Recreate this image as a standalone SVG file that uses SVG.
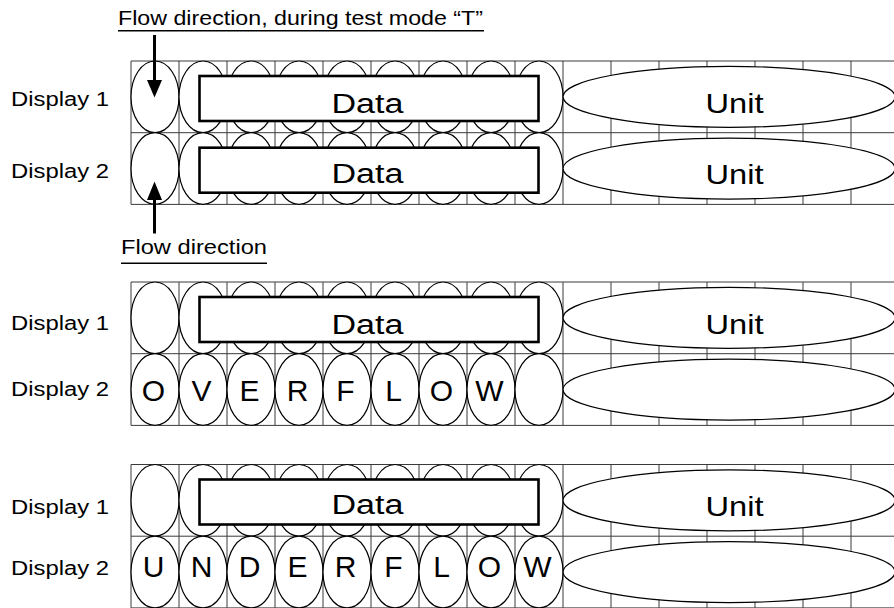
<svg xmlns="http://www.w3.org/2000/svg" width="894" height="608" viewBox="0 0 894 608">
<defs>
<style>
.grid{fill:none;stroke:#3a3a3a;stroke-width:1}
.cell{fill:#fff;stroke:#000;stroke-width:1.2}
.unit{fill:#fff;stroke:#000;stroke-width:1.2}
.data{fill:#fff;stroke:#000;stroke-width:2.6}
.t{font-family:"Liberation Sans",Arial,sans-serif;fill:#000}
.lbl{font-size:19.5px}
.big{font-size:27px;text-anchor:middle}
.unt{font-size:28px;text-anchor:middle}
.ch{font-size:30px;text-anchor:middle}
.cap{font-size:21px}
.ul{stroke:#000;stroke-width:1.5}
.arr{stroke:#000;stroke-width:3;fill:none}
</style>
<g id="cells9">
<ellipse class="cell" cx="155" cy="0" rx="24" ry="35.85"/>
<ellipse class="cell" cx="203" cy="0" rx="24" ry="35.85"/>
<ellipse class="cell" cx="251" cy="0" rx="24" ry="35.85"/>
<ellipse class="cell" cx="299" cy="0" rx="24" ry="35.85"/>
<ellipse class="cell" cx="347" cy="0" rx="24" ry="35.85"/>
<ellipse class="cell" cx="395" cy="0" rx="24" ry="35.85"/>
<ellipse class="cell" cx="443" cy="0" rx="24" ry="35.85"/>
<ellipse class="cell" cx="491" cy="0" rx="24" ry="35.85"/>
<ellipse class="cell" cx="539" cy="0" rx="24" ry="35.85"/>
<ellipse class="unit" cx="729" cy="0" rx="166" ry="30.5"/>
</g>
</defs>

<g id="grid">
<path class="grid" d="M131 61V204.4M179 61V204.4M227 61V204.4M275 61V204.4M323 61V204.4M371 61V204.4M419 61V204.4M467 61V204.4M515 61V204.4M563 61V204.4M611 61V204.4M659 61V204.4M707 61V204.4M755 61V204.4M803 61V204.4M851 61V204.4M131 61H894M131 132.7H894M131 204.4H894"/>
<path class="grid" d="M131 282V425.4M179 282V425.4M227 282V425.4M275 282V425.4M323 282V425.4M371 282V425.4M419 282V425.4M467 282V425.4M515 282V425.4M563 282V425.4M611 282V425.4M659 282V425.4M707 282V425.4M755 282V425.4M803 282V425.4M851 282V425.4M131 282H894M131 353.7H894M131 425.4H894"/>
<path class="grid" d="M131 464.5V607.9M179 464.5V607.9M227 464.5V607.9M275 464.5V607.9M323 464.5V607.9M371 464.5V607.9M419 464.5V607.9M467 464.5V607.9M515 464.5V607.9M563 464.5V607.9M611 464.5V607.9M659 464.5V607.9M707 464.5V607.9M755 464.5V607.9M803 464.5V607.9M851 464.5V607.9M131 464.5H894M131 536.2H894M131 607.9H894"/>
</g>

<g id="block1-display1">
<text class="t lbl" x="11" y="106" textLength="98" lengthAdjust="spacingAndGlyphs">Display 1</text>
<use href="#cells9" y="96.85"/>
<rect class="data" x="199.5" y="76" width="339" height="45"/>
<text class="t big" x="367.5" y="112.5" textLength="72" lengthAdjust="spacingAndGlyphs">Data</text>
<text class="t unt" x="734.5" y="113" textLength="58" lengthAdjust="spacingAndGlyphs">Unit</text>
</g>
<g id="block1-display2">
<text class="t lbl" x="11" y="177.5" textLength="98" lengthAdjust="spacingAndGlyphs">Display 2</text>
<use href="#cells9" y="168.55"/>
<rect class="data" x="199.5" y="147.7" width="339" height="45"/>
<text class="t big" x="367.5" y="183.3" textLength="72" lengthAdjust="spacingAndGlyphs">Data</text>
<text class="t unt" x="734.5" y="183.5" textLength="58" lengthAdjust="spacingAndGlyphs">Unit</text>
</g>

<g id="block2-display1">
<text class="t lbl" x="11" y="330" textLength="98" lengthAdjust="spacingAndGlyphs">Display 1</text>
<use href="#cells9" y="317.85"/>
<rect class="data" x="199.5" y="297" width="339" height="45"/>
<text class="t big" x="367.5" y="334" textLength="72" lengthAdjust="spacingAndGlyphs">Data</text>
<text class="t unt" x="734.5" y="334" textLength="58" lengthAdjust="spacingAndGlyphs">Unit</text>
</g>
<g id="block2-display2">
<text class="t lbl" x="11" y="396" textLength="98" lengthAdjust="spacingAndGlyphs">Display 2</text>
<use href="#cells9" y="389.55"/>
<text class="t ch" x="153.5" y="400.7">O</text>
<text class="t ch" x="201.5" y="400.7">V</text>
<text class="t ch" x="249.5" y="400.7">E</text>
<text class="t ch" x="297.5" y="400.7">R</text>
<text class="t ch" x="345.5" y="400.7">F</text>
<text class="t ch" x="393.5" y="400.7">L</text>
<text class="t ch" x="441.5" y="400.7">O</text>
<text class="t ch" x="489.5" y="400.7">W</text>
</g>

<g id="block3-display1">
<text class="t lbl" x="11" y="514" textLength="98" lengthAdjust="spacingAndGlyphs">Display 1</text>
<use href="#cells9" y="500.35"/>
<rect class="data" x="199.5" y="479.5" width="339" height="45"/>
<text class="t big" x="367.5" y="514" textLength="72" lengthAdjust="spacingAndGlyphs">Data</text>
<text class="t unt" x="734.5" y="516" textLength="58" lengthAdjust="spacingAndGlyphs">Unit</text>
</g>
<g id="block3-display2">
<text class="t lbl" x="11" y="575" textLength="98" lengthAdjust="spacingAndGlyphs">Display 2</text>
<use href="#cells9" y="572.05"/>
<text class="t ch" x="153.5" y="577">U</text>
<text class="t ch" x="201.5" y="577">N</text>
<text class="t ch" x="249.5" y="577">D</text>
<text class="t ch" x="297.5" y="577">E</text>
<text class="t ch" x="345.5" y="577">R</text>
<text class="t ch" x="393.5" y="577">F</text>
<text class="t ch" x="441.5" y="577">L</text>
<text class="t ch" x="489.5" y="577">O</text>
<text class="t ch" x="537.5" y="577">W</text>
</g>

<g id="caption-test-mode">
<text class="t cap" x="118" y="25" textLength="365" lengthAdjust="spacingAndGlyphs">Flow direction, during test mode “T”</text>
<line class="ul" x1="118" y1="30.7" x2="484" y2="30.7"/>
</g>
<g id="caption-flow">
<text class="t cap" x="121" y="254" textLength="146" lengthAdjust="spacingAndGlyphs">Flow direction</text>
<line class="ul" x1="121" y1="263.3" x2="267" y2="263.3"/>
</g>

<g id="connectors">
<line class="arr" x1="154.5" y1="35" x2="154.5" y2="82"/>
<polygon points="147,80 162,80 154.5,97.5" fill="#000"/>
<line class="arr" x1="154.5" y1="198" x2="154.5" y2="233.5"/>
<polygon points="147,200 162,200 154.5,181.5" fill="#000"/>
</g>
</svg>
